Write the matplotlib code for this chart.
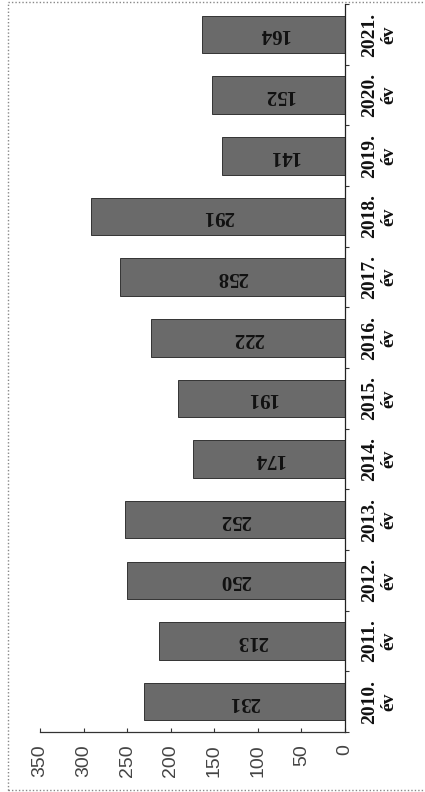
import matplotlib
matplotlib.use("Agg")
import matplotlib.pyplot as plt
from matplotlib.patches import Rectangle

# data (chart is drawn rotated: value axis runs right-to-left)
years = ["2010.", "2011.", "2012.", "2013.", "2014.", "2015.",
         "2016.", "2017.", "2018.", "2019.", "2020.", "2021."]
values = [231, 213, 250, 252, 174, 191, 222, 258, 291, 141, 152, 164]
value_ticks = [0, 50, 100, 150, 200, 250, 300, 350]

fig = plt.figure(figsize=(4.25, 7.92), dpi=100, facecolor="white")
ax = fig.add_axes([0.094, 0.0758, 0.7176, 0.919])

pos = list(range(len(years)))
bars = ax.barh(pos, values, height=0.62, color="#6a6a6a",
               edgecolor="#333333", linewidth=0.7)

# value labels, upside down inside the bars
for b, v in zip(bars, values):
    ax.text(v / 2, b.get_y() + b.get_height() / 2, str(v), rotation=180,
            ha="center", va="center", fontsize=15, fontweight="bold",
            family="Liberation Serif", color="#111111")

ax.set_xlim(max(value_ticks), 0)
ax.set_ylim(-0.5, len(years) - 0.5)

# value axis at the bottom
ax.set_xticks(value_ticks)
ax.set_xticklabels([str(t) for t in value_ticks], rotation=90,
                   fontsize=14, family="Liberation Sans", color="#444444")
ax.tick_params(axis="x", direction="in", length=3, width=0.8,
               color="#333333", pad=9)

# category axis on the right
ax.yaxis.tick_right()
ax.set_yticks(pos)
ax.set_yticklabels([y + "\név" for y in years], rotation=90, ha="left",
                   va="center", multialignment="center", fontsize=14,
                   fontweight="bold", family="Liberation Serif",
                   color="#111111", linespacing=1.15)
ax.tick_params(axis="y", which="major", length=0, pad=12)
ax.set_yticks([p + 0.5 for p in pos[:-1]] + [-0.5, len(years) - 0.5], minor=True)
ax.tick_params(axis="y", which="minor", right=True, direction="out",
               length=3, width=0.8, color="#333333")

for side in ["left", "top"]:
    ax.spines[side].set_visible(False)
ax.spines["right"].set_color("#222222")
ax.spines["bottom"].set_color("#333333")
ax.spines["right"].set_linewidth(0.9)
ax.spines["bottom"].set_linewidth(0.9)

# dotted frame of the scanned chart area
fig.patches.append(Rectangle((8 / 425, 2 / 792), 1.2, 1 - 4 / 792,
                             transform=fig.transFigure, fill=False,
                             linestyle=(0, (1, 1.5)), edgecolor="#888888",
                             linewidth=1.0))

fig.savefig("out.png", dpi=100, facecolor="white")
